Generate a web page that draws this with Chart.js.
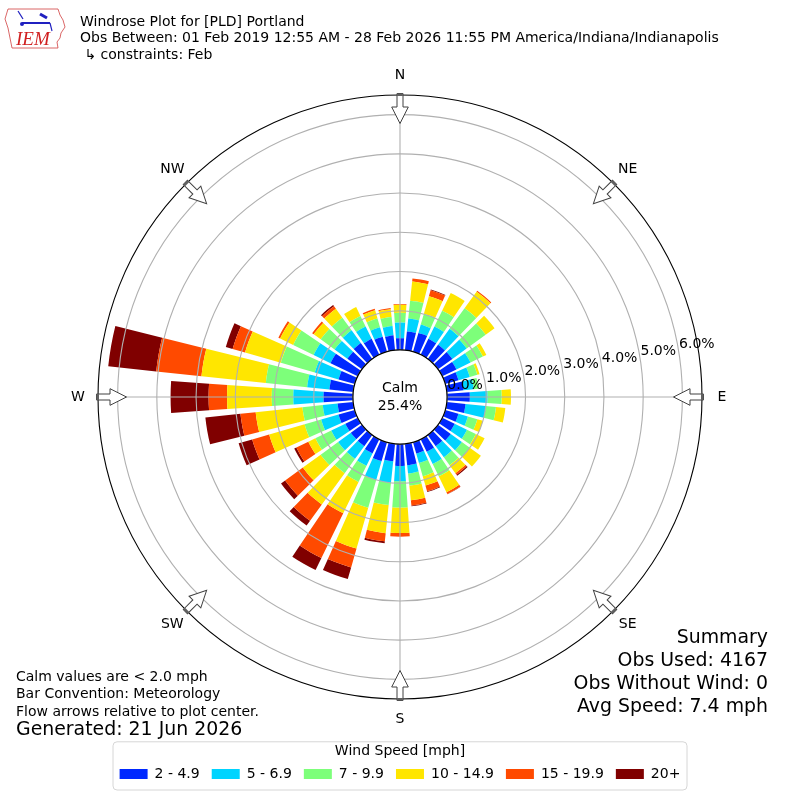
<!DOCTYPE html>
<html lang="en">
<head>
<meta charset="UTF-8">
<title>Windrose Plot for [PLD] Portland</title>
<script src="https://cdn.jsdelivr.net/npm/chart.js@4.4.1/dist/chart.umd.min.js"></script>
<style>
  html, body { margin: 0; padding: 0; background: #fff; }
  #wrap { width: 800px; height: 800px; position: relative; }
</style>
</head>
<body>
<div id="wrap"><canvas id="rose"></canvas></div>
<script>
// direction bins (degrees, meteorological convention)
const directionDeg = [0, 10, 20, 30, 40, 50, 60, 70, 80, 90, 100, 110, 120, 130, 140, 150, 160, 170,
                      180, 190, 200, 210, 220, 230, 240, 250, 260, 270, 280, 290, 300, 310, 320, 330, 340, 350];
const compassLabels = ['N', 'NE', 'E', 'SE', 'S', 'SW', 'W', 'NW'];
const ringTicks = [0, 1, 2, 3, 4, 5, 6];

const speedBins = ['2 - 4.9', '5 - 6.9', '7 - 9.9', '10 - 14.9', '15 - 19.9', '20+'];
const binColors = ['#0028ff', '#00d4ff', '#7dff7a', '#ffe600', '#ff4a00', '#800000'];

// percent of observations per direction and speed bin
const speed2to5 = [0.30, 0.48, 0.50, 0.45, 0.45, 0.45, 0.40, 0.35, 0.43, 0.58, 0.48, 0.35, 0.35, 0.40, 0.35, 0.35, 0.30, 0.55,
                   0.56, 0.45, 0.50, 0.40, 0.35, 0.35, 0.35, 0.43, 0.40, 0.75, 0.61, 0.43, 0.77, 0.46, 0.50, 0.45, 0.40, 0.38];
const speed5to7 = [0.40, 0.33, 0.22, 0.35, 0.50, 0.45, 0.40, 0.30, 0.26, 0.45, 0.52, 0.25, 0.35, 0.35, 0.35, 0.35, 0.25, 0.21,
                   0.39, 0.55, 0.50, 0.35, 0.40, 0.40, 0.40, 0.46, 0.38, 0.77, 0.57, 0.63, 0.48, 0.40, 0.40, 0.35, 0.25, 0.24];
const speed7to10 = [0.25, 0.46, 0.29, 0.45, 0.65, 0.60, 0.35, 0.20, 0.12, 0.36, 0.26, 0.25, 0.25, 0.25, 0.25, 0.35, 0.35, 0.31,
                    0.67, 0.57, 0.74, 0.46, 0.45, 0.55, 0.45, 0.44, 0.52, 0.55, 1.06, 0.90, 0.58, 0.44, 0.40, 0.30, 0.23, 0.23];
const speed10to15 = [0.20, 0.49, 0.46, 0.50, 0.52, 0.28, 0.10, 0.06, 0.00, 0.24, 0.24, 0.15, 0.25, 0.35, 0.25, 0.45, 0.25, 0.38,
                     0.65, 0.72, 1.08, 0.89, 0.99, 0.56, 0.20, 0.94, 1.20, 1.14, 1.65, 0.95, 0.37, 0.22, 0.28, 0.25, 0.22, 0.20];
const speed15to20 = [0.02, 0.08, 0.16, 0.00, 0.03, 0.00, 0.00, 0.00, 0.00, 0.00, 0.00, 0.00, 0.00, 0.00, 0.05, 0.05, 0.15, 0.13,
                     0.09, 0.21, 0.50, 1.27, 0.51, 0.56, 0.34, 0.45, 0.39, 0.47, 1.16, 0.33, 0.05, 0.05, 0.08, 0.00, 0.04, 0.03];
const speed20plus = [0.00, 0.00, 0.02, 0.00, 0.00, 0.00, 0.00, 0.00, 0.00, 0.00, 0.00, 0.00, 0.00, 0.00, 0.03, 0.01, 0.02, 0.02,
                     0.00, 0.05, 0.31, 0.34, 0.15, 0.13, 0.06, 0.36, 0.90, 0.97, 1.23, 0.18, 0.00, 0.00, 0.04, 0.00, 0.00, 0.00];
const calmPercent = 25.4;

const headerLines = ['Windrose Plot for [PLD] Portland',
                     'Obs Between: 01 Feb 2019 12:55 AM - 28 Feb 2026 11:55 PM America/Indiana/Indianapolis',
                     '\u21b3 constraints: Feb'];
const noteLines = ['Calm values are < 2.0 mph', 'Bar Convention: Meteorology', 'Flow arrows relative to plot center.'];
const generatedText = 'Generated: 21 Jun 2026';
const summaryLines = ['Summary', 'Obs Used: 4167', 'Obs Without Wind: 0', 'Avg Speed: 7.4 mph'];

const FONT = '"DejaVu Sans", sans-serif';
const SMALL = '14px ' + FONT;
const LARGE = '18.9px ' + FONT;
Chart.defaults.font.family = FONT;
Chart.defaults.color = '#000';

// polar area, but each dataset stacks on top of the previous ones and bars leave a gap
class WindRoseController extends Chart.PolarAreaController {
    updateElements(arcs, start, count, mode) {
        const scale = this._cachedMeta.rScale;
        const datasets = this.chart.data.datasets;
        const step = 2 * Math.PI / this.chart.data.labels.length;
        const opening = 0.8;
        for (let i = start; i < start + count; i++) {
            let base = 0;
            for (let d = 0; d < this.index; d++) base += datasets[d].data[i];
            const value = this.getParsed(i).r;
            const mid = scale.getIndexAngle(i) - Math.PI / 2;
            const startAngle = mid - step * opening / 2;
            const endAngle = mid + step * opening / 2;
            this.updateElement(arcs[i], i, {
                x: scale.xCenter,
                y: scale.yCenter,
                innerRadius: scale.getDistanceFromCenterForValue(base),
                outerRadius: scale.getDistanceFromCenterForValue(base + value),
                startAngle: startAngle,
                endAngle: endAngle,
                circumference: endAngle - startAngle,
                options: this.resolveDataElementOptions(i, mode)
            }, mode);
        }
    }
}
WindRoseController.id = 'windrose';
WindRoseController.defaults = Chart.PolarAreaController.defaults;
WindRoseController.overrides = Chart.PolarAreaController.overrides;
Chart.register(WindRoseController);

function drawLogo(ctx) {
    ctx.save();
    // rough Iowa outline
    ctx.strokeStyle = '#d04040';
    ctx.lineWidth = 0.8;
    ctx.beginPath();
    ctx.moveTo(8, 9); ctx.lineTo(58, 9); ctx.lineTo(60, 15); ctx.lineTo(63, 20);
    ctx.lineTo(65, 27); ctx.lineTo(61, 33); ctx.lineTo(60, 38); ctx.lineTo(57, 42);
    ctx.lineTo(58, 48); ctx.lineTo(12, 48); ctx.lineTo(10, 38); ctx.lineTo(8, 28);
    ctx.lineTo(5, 19); ctx.closePath();
    ctx.stroke();
    // blue station plot
    ctx.strokeStyle = '#2020c0';
    ctx.fillStyle = '#2020c0';
    ctx.lineWidth = 2;
    ctx.beginPath(); ctx.moveTo(22, 23); ctx.lineTo(50, 23); ctx.stroke();
    ctx.lineWidth = 1.2;
    ctx.beginPath(); ctx.moveTo(18, 11); ctx.lineTo(23, 19); ctx.stroke();
    ctx.beginPath(); ctx.moveTo(50, 23); ctx.lineTo(52, 31); ctx.stroke();
    ctx.lineWidth = 3;
    ctx.beginPath(); ctx.moveTo(40, 14); ctx.lineTo(47, 18); ctx.stroke();
    ctx.beginPath(); ctx.arc(22, 24, 2, 0, 2 * Math.PI); ctx.fill();
    // red IEM text
    ctx.fillStyle = '#d02020';
    ctx.font = 'italic 19px "Liberation Serif", serif';
    ctx.textAlign = 'left';
    ctx.textBaseline = 'alphabetic';
    ctx.fillText('IEM', 16, 45);
    ctx.restore();
}

const decorations = {
    id: 'decorations',
    afterDraw(chart) {
        const ctx = chart.ctx;
        const r = chart.scales.r;
        const cx = r.xCenter, cy = r.yCenter;
        const outer = r.getDistanceFromCenterForValue(r.max);
        const inner = r.getDistanceFromCenterForValue(0);
        ctx.save();

        // calm circle
        ctx.beginPath();
        ctx.arc(cx, cy, inner, 0, 2 * Math.PI);
        ctx.fillStyle = '#fff';
        ctx.fill();
        ctx.lineWidth = 1.2;
        ctx.strokeStyle = '#000';
        ctx.stroke();
        ctx.fillStyle = '#000';
        ctx.font = SMALL;
        ctx.textAlign = 'center';
        ctx.textBaseline = 'middle';
        ctx.fillText('Calm', cx, cy - 9);
        ctx.fillText(calmPercent.toFixed(1) + '%', cx, cy + 9);

        // ring labels along the 80 degree radial
        const labelAngle = 80 * Math.PI / 180;
        ctx.textAlign = 'left';
        ctx.textBaseline = 'alphabetic';
        ringTicks.forEach(v => {
            const d = r.getDistanceFromCenterForValue(v);
            ctx.fillText(v.toFixed(1) + '%', cx + Math.sin(labelAngle) * d + 1, cy - Math.cos(labelAngle) * d);
        });

        // flow arrows and compass labels
        const step = directionDeg.length / compassLabels.length;
        compassLabels.forEach((name, k) => {
            const idx = k * step;
            const ang = r.getIndexAngle(idx) - Math.PI / 2;
            const p = r.getPointPosition(idx, outer + 1.5);
            ctx.save();
            ctx.translate(p.x, p.y);
            ctx.rotate(ang + Math.PI);
            ctx.beginPath();
            ctx.moveTo(0, -3); ctx.lineTo(13.5, -3); ctx.lineTo(13.5, -8.3);
            ctx.lineTo(30, 0);
            ctx.lineTo(13.5, 8.3); ctx.lineTo(13.5, 3); ctx.lineTo(0, 3);
            ctx.closePath();
            ctx.fillStyle = '#fff';
            ctx.fill();
            ctx.lineWidth = 1;
            ctx.strokeStyle = '#404040';
            ctx.stroke();
            ctx.fillStyle = '#606060';
            ctx.fillRect(0, -3, 2.5, 6);
            ctx.restore();

            const lp = r.getPointPosition(idx, outer + 20);
            ctx.fillStyle = '#000';
            ctx.font = SMALL;
            ctx.textAlign = 'center';
            ctx.textBaseline = 'middle';
            ctx.fillText(name, lp.x, lp.y);
        });

        // header
        drawLogo(ctx);
        ctx.fillStyle = '#000';
        ctx.font = SMALL;
        ctx.textAlign = 'left';
        ctx.textBaseline = 'alphabetic';
        ctx.fillText(headerLines[0], 80, 25.5);
        ctx.fillText(headerLines[1], 80, 42.2);
        ctx.fillText(headerLines[2], 84.4, 58.9);

        // notes, bottom left
        const noteBase = [681, 698.3, 716];
        noteLines.forEach((t, i) => ctx.fillText(t, 16, noteBase[i]));
        ctx.font = LARGE;
        ctx.fillText(generatedText, 16, 735);

        // summary, bottom right
        ctx.textAlign = 'right';
        const sumBase = [643, 666, 689, 712];
        summaryLines.forEach((t, i) => ctx.fillText(t, 768, sumBase[i]));

        // legend frame
        const lg = chart.legend;
        const fx = cx - 287, fw = 574;
        const fy = lg.top + 41, fh = lg.bottom - 1 - fy;
        ctx.beginPath();
        ctx.roundRect(fx, fy, fw, fh, 4);
        ctx.lineWidth = 1;
        ctx.strokeStyle = '#d6d6d6';
        ctx.stroke();

        ctx.restore();
    }
};

const seriesValues = [speed2to5, speed5to7, speed7to10, speed10to15, speed15to20, speed20plus];

new Chart(document.getElementById('rose'), {
    type: 'windrose',
    data: {
        labels: directionDeg.map(d => d + '\u00b0'),
        datasets: seriesValues.map((vals, i) => ({
            label: speedBins[i],
            data: vals,
            backgroundColor: binColors[i],
            borderWidth: 0
        }))
    },
    options: {
        responsive: true,
        maintainAspectRatio: false,
        animation: false,
        events: [],
        layout: { padding: { left: 97, right: 97, top: 95, bottom: 9 } },
        scales: {
            r: {
                type: 'radialLinear',
                min: -1.2,
                max: 6.5,
                startAngle: 0,
                ticks: { display: false, stepSize: 1 },
                pointLabels: { display: false },
                grid: {
                    z: 1,
                    circular: true,
                    color: c => (c.tick && c.tick.value >= 6.5) ? '#000' : '#b0b0b0',
                    lineWidth: c => (c.tick && c.tick.value < 0) ? 0 : 1.1
                },
                angleLines: {
                    display: true,
                    color: '#b0b0b0',
                    lineWidth: c => (c.index % 9 === 0) ? 1.1 : 0
                }
            }
        },
        plugins: {
            tooltip: { enabled: false },
            legend: {
                position: 'bottom',
                onClick: () => {},
                title: {
                    display: true,
                    text: 'Wind Speed [mph]',
                    color: '#000',
                    font: { size: 14 },
                    padding: { top: 44, bottom: -6.6 }
                },
                labels: {
                    boxWidth: 28,
                    boxHeight: 10,
                    padding: 12,
                    color: '#000',
                    font: { size: 14 },
                    generateLabels: chart => chart.data.datasets.map((ds, i) => ({
                        text: ds.label,
                        fillStyle: ds.backgroundColor,
                        strokeStyle: ds.backgroundColor,
                        lineWidth: 0,
                        hidden: false,
                        datasetIndex: i
                    }))
                }
            }
        }
    },
    plugins: [decorations]
});
</script>
</body>
</html>
